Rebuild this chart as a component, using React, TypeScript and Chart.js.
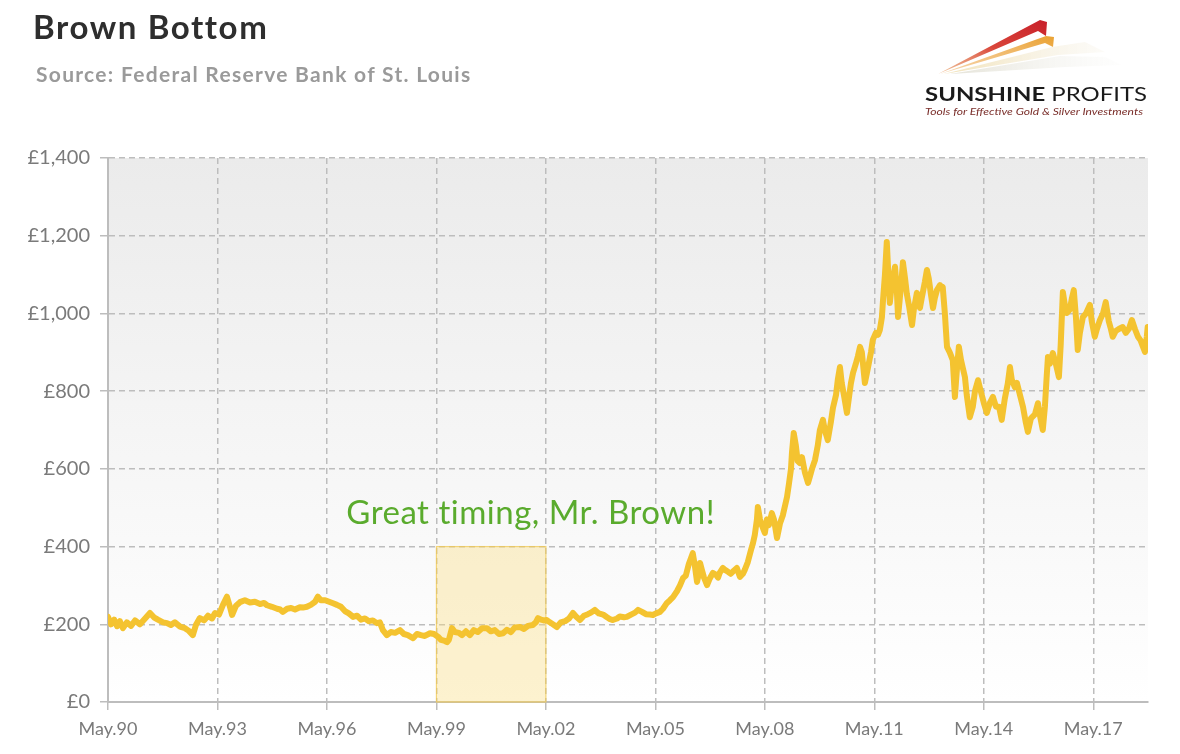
import React, { useEffect, useRef } from "react";
import { Chart, registerables } from "chart.js";

Chart.register(...registerables);

// Months elapsed since May 1990 (x position of each reading)
const monthIdx: number[] = [
  0, 1.0, 2.0, 3.0, 3.9, 4.9, 6.2, 7.6, 8.9, 10.5, 12.2, 13.8, 15.1, 16.4, 18.1, 19.4, 20.7, 22.0, 23.7, 25.3,
  26.6, 27.9, 28.9, 30.2, 31.6, 32.9, 34.2, 35.2, 36.5, 37.8, 39.1, 40.1, 40.8, 42.1, 43.4, 45.0, 46.7, 48.3, 50.0, 51.3,
  52.3, 53.9, 55.6, 56.6, 57.5, 58.9, 60.2, 61.5, 63.1, 64.1, 65.4, 66.7, 68.1, 69.0, 70.0, 71.4, 72.7, 74.0, 75.3, 76.6,
  77.9, 79.2, 80.6, 81.9, 83.2, 84.5, 85.8, 87.1, 88.4, 89.4, 90.4, 91.7, 93.0, 94.4, 96.0, 97.3, 98.6, 100.3, 101.6, 102.9,
  104.2, 105.9, 107.2, 108.5, 109.5, 110.8, 111.5, 112.1, 113.1, 114.1, 115.4, 116.4, 117.7, 119.0, 120.3, 121.6, 123.0, 124.6, 125.9, 127.2,
  128.6, 129.9, 131.2, 132.5, 133.8, 135.5, 136.8, 138.1, 139.7, 140.7, 141.4, 142.4, 143.3, 144.3, 145.3, 146.3, 147.6, 148.9, 150.3, 151.6,
  152.9, 153.9, 155.2, 156.5, 157.8, 158.8, 160.1, 161.4, 162.8, 164.1, 165.1, 166.0, 167.4, 168.3, 169.7, 170.6, 172.0, 173.3, 174.3, 175.6,
  176.9, 178.2, 179.2, 180.2, 181.5, 182.5, 183.8, 184.8, 185.8, 187.1, 188.1, 189.1, 190.0, 191.0, 191.7, 192.3, 193.0, 193.7, 194.3, 194.7,
  195.3, 196.0, 197.0, 197.9, 198.9, 199.9, 200.6, 201.2, 202.2, 202.9, 203.9, 204.8, 205.8, 206.8, 207.8, 208.8, 209.4, 210.4, 211.4, 212.1,
  212.7, 213.4, 213.7, 214.4, 215.0, 216.0, 216.7, 217.3, 218.3, 219.0, 220.0, 221.0, 221.9, 223.3, 223.9, 224.6, 224.9, 225.5, 226.2, 226.8,
  227.5, 228.2, 229.2, 230.2, 230.8, 231.5, 232.5, 233.4, 234.1, 235.1, 235.7, 236.7, 237.7, 238.4, 239.4, 240.0, 240.7, 241.3, 242.0, 243.0,
  243.6, 244.3, 245.0, 245.9, 246.6, 247.3, 247.9, 248.9, 249.9, 250.9, 251.5, 252.5, 253.2, 253.8, 254.5, 254.8, 255.5, 256.1, 256.5, 257.1,
  257.8, 258.4, 258.8, 259.4, 259.8, 260.4, 261.1, 261.4, 262.1, 262.7, 263.4, 264.4, 265.0, 266.0, 267.0, 267.6, 268.6, 269.3, 269.9, 270.6,
  271.3, 271.9, 272.6, 273.6, 274.2, 274.5, 275.2, 275.9, 276.8, 277.8, 278.5, 279.1, 279.8, 280.5, 281.1, 281.8, 282.4, 283.4, 284.4, 285.1,
  286.1, 287.0, 288.0, 289.0, 290.0, 291.0, 292.0, 293.0, 293.9, 294.9, 295.9, 296.6, 297.2, 298.2, 298.9, 299.9, 300.9, 301.8, 302.5, 303.5,
  304.8, 305.8, 306.4, 307.4, 308.1, 308.7, 309.1, 309.7, 310.7, 311.7, 312.7, 313.3, 314.0, 314.7, 315.3, 316.3, 317.0, 317.6, 318.3, 318.9,
  319.6, 320.6, 321.6, 322.9, 323.5, 324.5, 325.2, 326.2, 327.2, 328.1, 329.1, 329.8, 330.4, 331.4, 332.4, 333.7, 334.7, 335.7, 336.7, 337.7,
  338.7, 339.6, 340.3, 341.0, 341.6, 341.9,
];

// Gold price in GBP per ounce
const prices: number[] = [
  219, 200, 212, 195, 208, 190, 205, 196, 210, 200, 215, 229, 218, 212, 205, 203, 198, 205, 194, 190,
  183, 172, 198, 216, 210, 222, 215, 229, 225, 250, 271, 245, 224, 248, 257, 262, 256, 258, 252, 255,
  249, 245, 240, 238, 232, 240, 242, 238, 244, 243, 245, 250, 258, 271, 262, 262, 258, 254, 250, 245,
  234, 228, 219, 222, 212, 215, 208, 210, 203, 205, 185, 172, 180, 178, 185, 175, 172, 164, 175, 172,
  170, 177, 175, 168, 160, 157, 154, 160, 190, 180, 178, 172, 182, 172, 185, 180, 190, 190, 182, 185,
  175, 177, 186, 180, 192, 193, 188, 196, 198, 205, 216, 212, 210, 211, 205, 200, 193, 205, 208, 215,
  229, 220, 211, 222, 226, 230, 237, 228, 225, 218, 213, 211, 215, 220, 218, 219, 225, 230, 237, 232,
  226, 225, 224, 228, 232, 240, 255, 262, 270, 285, 300, 319, 325, 355, 370, 383, 350, 309, 330, 358,
  340, 320, 301, 318, 332, 328, 320, 333, 345, 340, 335, 330, 338, 345, 322, 330, 340, 360, 390, 409,
  430, 470, 502, 470, 455, 435, 470, 455, 486, 470, 422, 460, 480, 528, 560, 600, 640, 692, 660, 620,
  615, 630, 590, 564, 580, 600, 623, 660, 700, 726, 700, 674, 720, 757, 790, 830, 862, 820, 790, 744,
  780, 820, 847, 870, 890, 914, 900, 821, 860, 900, 932, 950, 945, 957, 990, 1027, 1100, 1184, 1120, 1027,
  1080, 1100, 1120, 1060, 991, 1040, 1100, 1132, 1090, 1050, 1020, 970, 1010, 1053, 1014, 1040, 1080, 1112, 1090, 1050,
  1014, 1040, 1060, 1073, 1065, 1068, 1000, 914, 900, 880, 785, 850, 914, 880, 860, 836, 790, 733, 760, 800,
  828, 800, 770, 744, 770, 785, 760, 760, 726, 780, 820, 862, 830, 810, 821, 790, 759, 720, 695, 730,
  740, 769, 740, 700, 760, 840, 888, 870, 898, 870, 836, 920, 1055, 1020, 1001, 1010, 1040, 1060, 990, 906,
  950, 991, 1000, 1022, 980, 940, 960, 983, 1000, 1029, 980, 960, 940, 955, 960, 965, 950, 960, 983, 960,
  940, 930, 915, 901, 940, 965,
];

const tickMonths: number[] = [0, 36, 72, 108, 144, 180, 216, 252, 288, 324];
const tickLabels: string[] = ["May.90", "May.93", "May.96", "May.99", "May.02", "May.05", "May.08", "May.11", "May.14", "May.17"];
const xMax = 342;
const yMax = 1400;
const yStep = 200;

const highlightStart = 108;
const highlightEnd = 144;
const highlightTop = 400;
const noteText = "Great timing, Mr. Brown!";
const noteMonth = 139;
const noteValue = 486;

const titleText = "Brown Bottom";
const subtitleText = "Source: Federal Reserve Bank of St. Louis";

const FONT = "Lato, 'Open Sans', sans-serif";

const bgPlugin = {
  id: "plotBg",
  beforeDraw(chart: any) {
    const { ctx, chartArea } = chart;
    if (!chartArea) return;
    const { left, top, right, bottom } = chartArea;
    const g = ctx.createLinearGradient(0, top, 0, bottom);
    g.addColorStop(0, "#ebebeb");
    g.addColorStop(0.55, "#f6f6f6");
    g.addColorStop(1, "#ffffff");
    ctx.save();
    ctx.fillStyle = g;
    ctx.fillRect(left, top, right - left, bottom - top);
    ctx.restore();
  },
};

const highlightPlugin = {
  id: "highlight",
  beforeDatasetsDraw(chart: any) {
    const { ctx, scales } = chart;
    const x1 = scales.x.getPixelForValue(highlightStart);
    const x2 = scales.x.getPixelForValue(highlightEnd);
    const y1 = scales.y.getPixelForValue(highlightTop);
    const y2 = scales.y.getPixelForValue(0);
    ctx.save();
    ctx.fillStyle = "rgba(250, 222, 130, 0.38)";
    ctx.fillRect(x1, y1, x2 - x1, y2 - y1);
    ctx.strokeStyle = "rgba(240, 200, 80, 0.75)";
    ctx.lineWidth = 1.2;
    ctx.strokeRect(x1, y1, x2 - x1, y2 - y1);
    ctx.restore();
  },
  afterDatasetsDraw(chart: any) {
    const { ctx, scales } = chart;
    const x = scales.x.getPixelForValue(noteMonth);
    const y = scales.y.getPixelForValue(noteValue);
    ctx.save();
    ctx.fillStyle = "#5aab2d";
    ctx.font = `33px ${FONT}`;
    try {
      (ctx as any).letterSpacing = "0.5px";
    } catch (e) {}
    ctx.textAlign = "center";
    ctx.textBaseline = "middle";
    ctx.fillText(noteText, x, y);
    ctx.restore();
  },
};

function Logo() {
  return (
    <svg width={280} height={130} viewBox="0 0 280 130" style={{ position: "absolute", left: 892, top: -8 }}>
      <defs>
        <linearGradient id="gRed" x1="0" y1="1" x2="1" y2="0">
          <stop offset="0" stopColor="#e8a060" stopOpacity="0.6" />
          <stop offset="0.5" stopColor="#d9453a" />
          <stop offset="1" stopColor="#c8202a" />
        </linearGradient>
        <linearGradient id="gOr" x1="0" y1="1" x2="1" y2="0">
          <stop offset="0" stopColor="#f0b060" stopOpacity="0.5" />
          <stop offset="1" stopColor="#eaa232" />
        </linearGradient>
        <linearGradient id="gPale" x1="0" y1="0" x2="1" y2="0">
          <stop offset="0" stopColor="#f0dfb0" stopOpacity="0.9" />
          <stop offset="1" stopColor="#f2ecdc" stopOpacity="0.2" />
        </linearGradient>
        <linearGradient id="gGrey" x1="0" y1="0" x2="1" y2="0">
          <stop offset="0" stopColor="#e2e0d4" stopOpacity="0.9" />
          <stop offset="1" stopColor="#f2f2ee" stopOpacity="0.1" />
        </linearGradient>
      </defs>
      <polygon points="38,74 140,20 147,22 146,36 138,31" fill="url(#gRed)" />
      <polygon points="40,74 146,36 154,37 153,47 145,43" fill="url(#gOr)" />
      <polygon points="44,74 152,47 185,42 205,52 158,55" fill="url(#gPale)" />
      <polygon points="50,74 160,56 205,57 222,65 166,67" fill="url(#gGrey)" />
      <text x={25} y={101} fontFamily={FONT} fontSize={19} fill="#1a1a1a" textLength={222} lengthAdjust="spacingAndGlyphs">
        <tspan fontWeight={700}>SUNSHINE</tspan>
        <tspan fontWeight={400}> PROFITS</tspan>
      </text>
      <text x={25} y={115} fontFamily={FONT} fontSize={9} fontStyle="italic" fill="#7a2e2a" textLength={218} lengthAdjust="spacingAndGlyphs">
        Tools for Effective Gold &amp; Silver Investments
      </text>
    </svg>
  );
}

export default function App() {
  const canvasRef = useRef<HTMLCanvasElement | null>(null);

  useEffect(() => {
    if (!canvasRef.current) return;
    const points = monthIdx.map((m, i) => ({ x: m, y: prices[i] }));
    const gridColor = "#bdbdbd";
    const chart = new Chart(canvasRef.current, {
      type: "line",
      data: {
        datasets: [
          {
            data: points,
            borderColor: "#f4c330",
            borderWidth: 6,
            pointRadius: 0,
            tension: 0,
            borderJoinStyle: "round",
            borderCapStyle: "round",
          } as any,
        ],
      },
      options: {
        animation: false,
        responsive: true,
        maintainAspectRatio: false,
        layout: { padding: { left: 0, top: 150, right: 24, bottom: 0 } },
        plugins: { legend: { display: false }, tooltip: { enabled: false }, title: { display: false } },
        scales: {
          x: {
            type: "linear",
            min: 0,
            max: xMax,
            afterBuildTicks: (scale: any) => {
              scale.ticks = tickMonths.map((v) => ({ value: v }));
            },
            afterFit: (scale: any) => {
              scale.height = 44;
            },
            ticks: {
              autoSkip: false,
              maxRotation: 0,
              padding: 8,
              color: "#7a7a7a",
              font: { family: FONT, size: 18 },
              callback: (value: any) => {
                const i = tickMonths.indexOf(Number(value));
                return i >= 0 ? tickLabels[i] : "";
              },
            },
            grid: { color: gridColor, lineWidth: 1.5, tickLength: 8, drawOnChartArea: true },
            border: { display: true, color: gridColor, width: 2, dash: [6, 4] },
          },
          y: {
            type: "linear",
            min: 0,
            max: yMax,
            afterFit: (scale: any) => {
              scale.width = 100;
            },
            ticks: {
              stepSize: yStep,
              padding: 10,
              color: "#7a7a7a",
              font: { family: FONT, size: 20 },
              callback: (value: any) => "£" + Number(value).toLocaleString("en-US"),
            },
            grid: { color: gridColor, lineWidth: 1.5, tickLength: 8 },
            border: { display: true, color: gridColor, width: 2, dash: [6, 4] },
          },
        },
      },
      plugins: [bgPlugin, highlightPlugin],
    });
    return () => chart.destroy();
  }, []);

  return (
    <div style={{ position: "relative", width: 1164, height: 738, fontFamily: FONT }}>
      <canvas ref={canvasRef} style={{ position: "absolute", left: 0, top: 0 }} />
      <div
        style={{
          position: "absolute",
          left: 25,
          top: -1,
          fontSize: 33,
          fontWeight: 700,
          letterSpacing: "1.6px",
          color: "#2e2e2e",
          lineHeight: "38px",
          whiteSpace: "nowrap",
        }}
      >
        {titleText}
      </div>
      <div
        style={{
          position: "absolute",
          left: 28,
          top: 53,
          fontSize: 21,
          fontWeight: 700,
          letterSpacing: "1.3px",
          color: "#9a9a9a",
          lineHeight: "26px",
          whiteSpace: "nowrap",
        }}
      >
        {subtitleText}
      </div>
      <Logo />
    </div>
  );
}
